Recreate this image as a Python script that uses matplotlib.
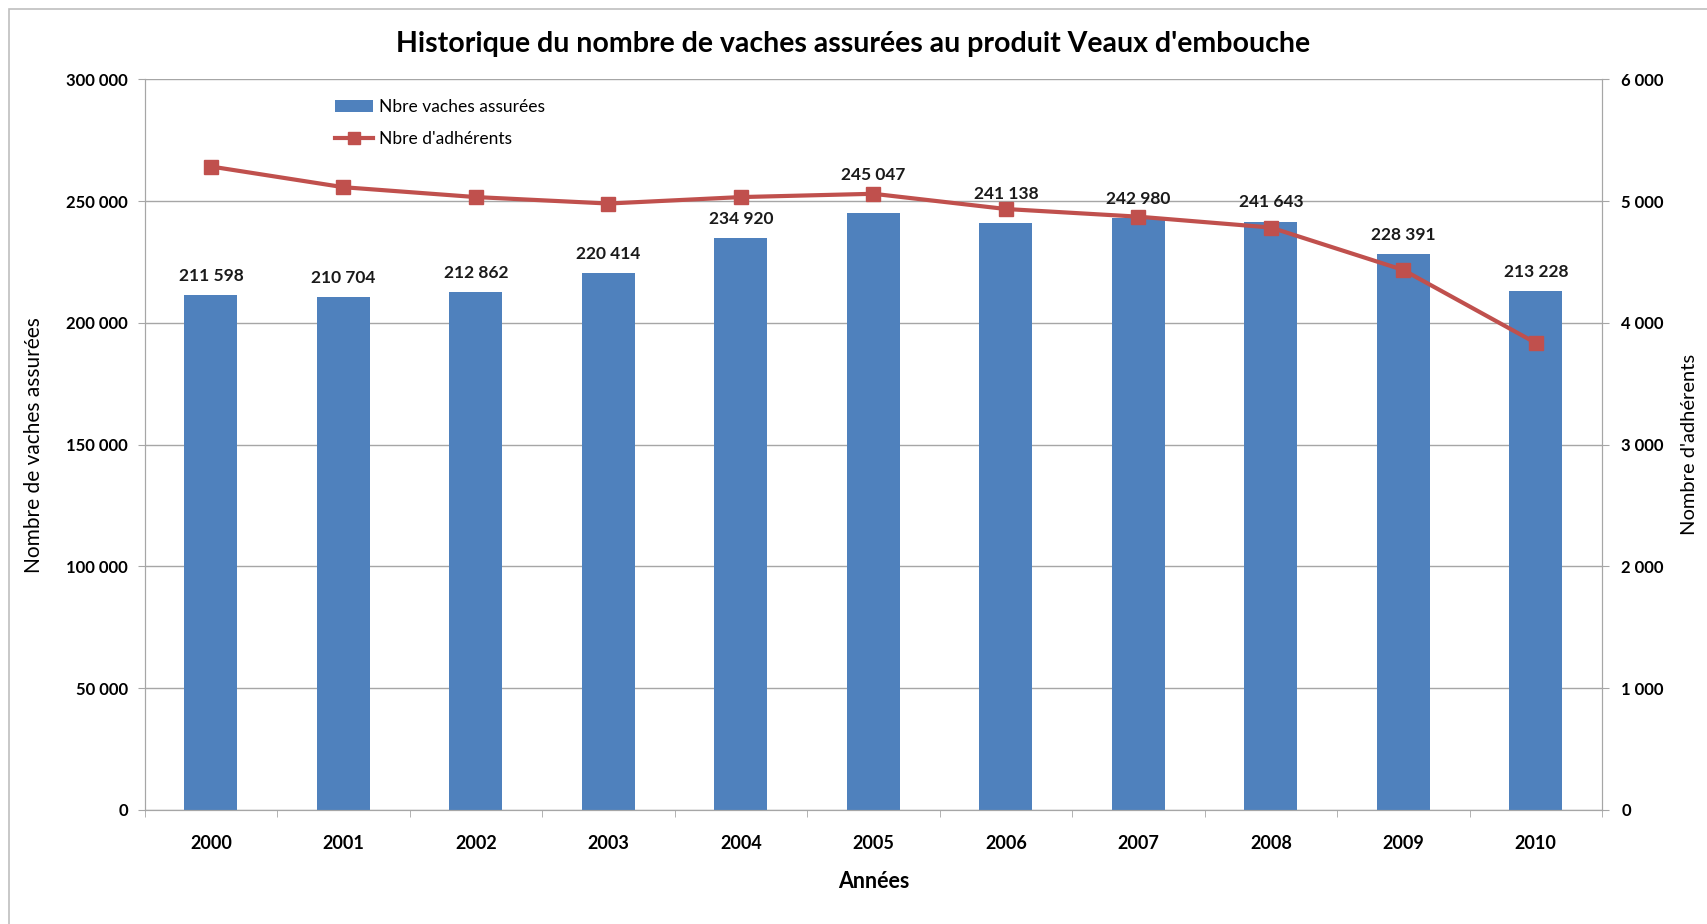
import numpy as np
import matplotlib.pyplot as plt
from matplotlib.patches import Patch, Rectangle
from matplotlib.lines import Line2D
from matplotlib.ticker import FuncFormatter, FixedLocator

plt.rcParams['font.family'] = ['Lato', 'DejaVu Sans']

years = ['2000', '2001', '2002', '2003', '2004', '2005', '2006', '2007', '2008', '2009', '2010']
vaches = [211598, 210704, 212862, 220414, 234920, 245047, 241138, 242980, 241643, 228391, 213228]
adherents = [5285, 5115, 5034, 4981, 5034, 5061, 4936, 4873, 4784, 4435, 3836]

bar_color = '#4F81BD'
line_color = '#C0504D'
grid_color = '#A6A6A6'

# labels pushed up where the line would cross them
label_offsets = [8, 8, 8, 8, 8, 22, 15, 8, 8, 8, 8]


def fmt_space(v, pos=None):
    return '{:,.0f}'.format(v).replace(',', ' ')


fig = plt.figure(figsize=(17.07, 9.24), dpi=100)
ax = fig.add_axes([0.0848, 0.1234, 0.8537, 0.7906])
ax2 = ax.twinx()

x = np.arange(len(years))

ax.bar(x, vaches, width=0.4, color=bar_color, zorder=2)

ax.set_xlim(-0.5, len(years) - 0.5)
ax.set_ylim(0, 300000)
ax.set_yticks(np.arange(0, 300001, 50000))
ax.yaxis.set_major_formatter(FuncFormatter(fmt_space))
ax.grid(axis='y', color=grid_color, linewidth=1, zorder=0)
ax.set_axisbelow(True)

ax.set_xticks(x)
ax.set_xticklabels(years)
ax.xaxis.set_minor_locator(FixedLocator(np.arange(-0.5, len(years), 1.0)))
ax.tick_params(axis='x', which='major', length=0, pad=18)
ax.tick_params(axis='x', which='minor', length=5, color=grid_color, direction='out')
ax.tick_params(axis='y', length=5, color=grid_color, direction='out', pad=7)
for lab in ax.get_xticklabels():
    lab.set_fontsize(13)
    lab.set_fontweight('bold')
for lab in ax.get_yticklabels():
    lab.set_fontsize(12)
    lab.set_fontweight('bold')

ax.set_xlabel('Années', fontsize=15.5, fontweight='bold', labelpad=14)
ax.set_ylabel('Nombre de vaches assurées', fontsize=15, labelpad=16)

ax2.plot(x, adherents, color=line_color, linewidth=3, marker='s', markersize=10, zorder=3)
ax2.set_ylim(0, 6000)
ax2.set_yticks(np.arange(0, 6001, 1000))
ax2.yaxis.set_major_formatter(FuncFormatter(fmt_space))
ax2.tick_params(axis='y', length=5, color=grid_color, direction='out', pad=9)
for lab in ax2.get_yticklabels():
    lab.set_fontsize(12)
    lab.set_fontweight('bold')
ax2.set_ylabel("Nombre d'adhérents", fontsize=14.5, labelpad=12)

# data labels on top of everything
for xi, v, off in zip(x, vaches, label_offsets):
    ax2.annotate(fmt_space(v), (xi, v / 50), xytext=(0, off), textcoords='offset points',
                 ha='center', va='bottom', fontsize=12.5, fontweight='bold',
                 color='#1a1a1a', zorder=5)

for a in (ax, ax2):
    a.spines['top'].set_visible(False)
    a.spines['left'].set_color(grid_color)
    a.spines['right'].set_color(grid_color)
    a.spines['bottom'].set_color(grid_color)

handles = [Patch(facecolor=bar_color, edgecolor='none'),
           Line2D([0], [0], color=line_color, linewidth=3, marker='s', markersize=9)]
ax2.legend(handles, ['Nbre vaches assurées', "Nbre d'adhérents"],
           loc='upper left', bbox_to_anchor=(0.12, 0.995), frameon=False,
           fontsize=12.5, handlelength=2.2, labelspacing=0.95, handletextpad=0.3)

fig.suptitle("Historique du nombre de vaches assurées au produit Veaux d'embouche",
             y=0.966, fontsize=20.5, fontweight='bold')

fig.patches.append(Rectangle((0.005, -0.01), 1.0, 1.0, transform=fig.transFigure,
                             fill=False, edgecolor='#BFBFBF', linewidth=1.2))

fig.savefig('out.png', dpi=100)
